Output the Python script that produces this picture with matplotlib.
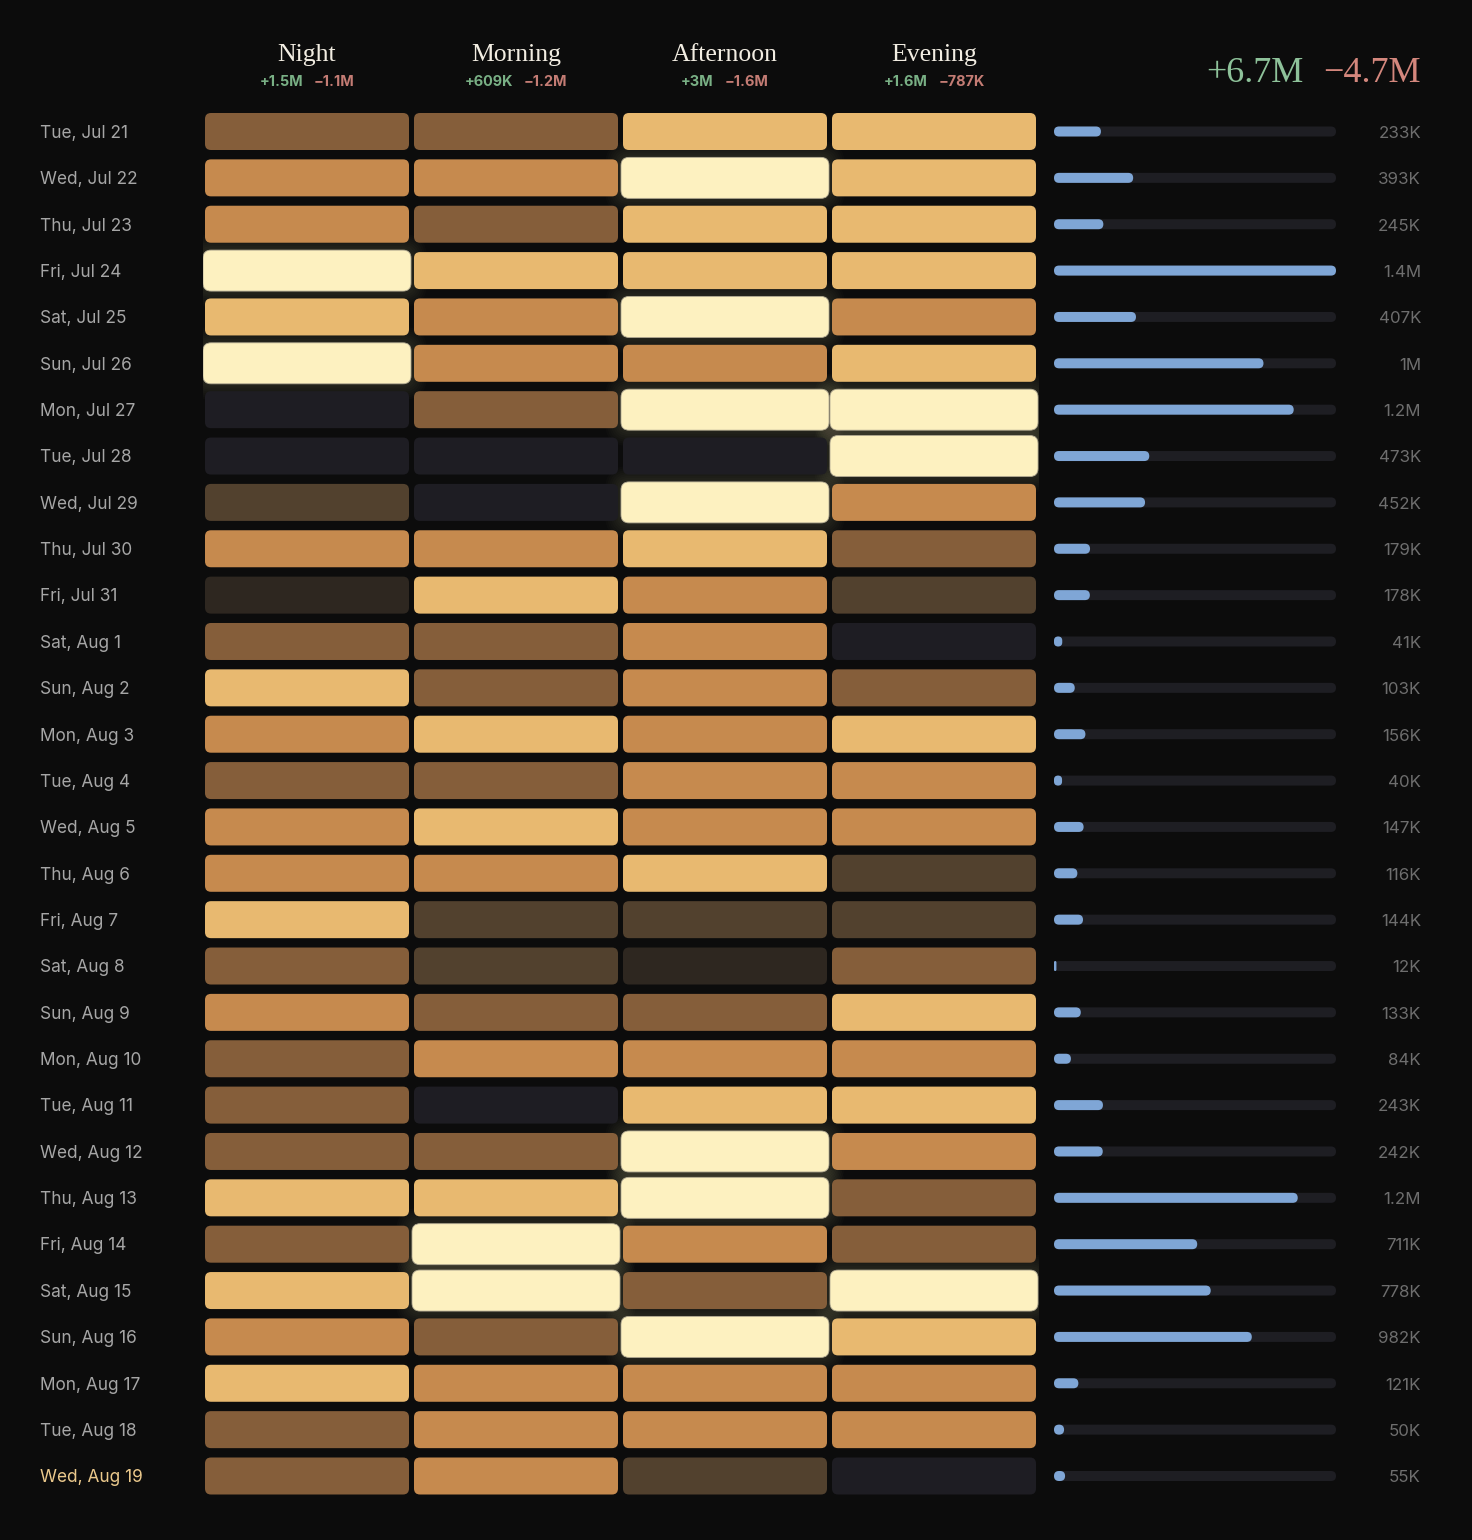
import matplotlib
matplotlib.use("Agg")
import matplotlib.pyplot as plt
from matplotlib.patches import FancyBboxPatch
from matplotlib.transforms import blended_transform_factory

# ---------------- data ----------------
dates = ["Tue, Jul 21", "Wed, Jul 22", "Thu, Jul 23", "Fri, Jul 24", "Sat, Jul 25",
         "Sun, Jul 26", "Mon, Jul 27", "Tue, Jul 28", "Wed, Jul 29", "Thu, Jul 30",
         "Fri, Jul 31", "Sat, Aug 1", "Sun, Aug 2", "Mon, Aug 3", "Tue, Aug 4",
         "Wed, Aug 5", "Thu, Aug 6", "Fri, Aug 7", "Sat, Aug 8", "Sun, Aug 9",
         "Mon, Aug 10", "Tue, Aug 11", "Wed, Aug 12", "Thu, Aug 13", "Fri, Aug 14",
         "Sat, Aug 15", "Sun, Aug 16", "Mon, Aug 17", "Tue, Aug 18", "Wed, Aug 19"]
periods = ["Night", "Morning", "Afternoon", "Evening"]
period_gain = ["+1.5M", "+609K", "+3M", "+1.6M"]
period_loss = ["\u22121.1M", "\u22121.2M", "\u22121.6M", "\u2212787K"]
total_gain = "+6.7M"
total_loss = "\u22124.7M"

# intensity level per day (rows) and period (columns), 0 = none ... 6 = peak
night     = [3, 4, 4, 6, 5, 6, 0, 0, 2, 4, 1, 3, 5, 4, 3, 4, 4, 5, 3, 4, 3, 3, 3, 5, 3, 5, 4, 5, 3, 3]
morning   = [3, 4, 3, 5, 4, 4, 3, 0, 0, 4, 5, 3, 3, 5, 3, 5, 4, 2, 2, 3, 4, 0, 3, 5, 6, 6, 3, 4, 4, 4]
afternoon = [5, 6, 5, 5, 6, 4, 6, 0, 6, 5, 4, 4, 4, 4, 4, 4, 5, 2, 1, 3, 4, 5, 6, 6, 4, 3, 6, 4, 4, 2]
evening   = [5, 5, 5, 5, 4, 5, 6, 6, 4, 3, 2, 0, 3, 5, 4, 4, 2, 2, 3, 5, 4, 5, 4, 3, 3, 6, 5, 4, 4, 0]

# daily volume (thousands) and its label
volume_k = [233, 393, 245, 1400, 407, 1040, 1190, 473, 452, 179, 178, 41, 103, 156, 40,
            147, 116, 144, 12, 133, 84, 243, 242, 1210, 711, 778, 982, 121, 50, 55]
volume_labels = ["233K", "393K", "245K", "1.4M", "407K", "1M", "1.2M", "473K", "452K",
                 "179K", "178K", "41K", "103K", "156K", "40K", "147K", "116K", "144K",
                 "12K", "133K", "84K", "243K", "242K", "1.2M", "711K", "778K", "982K",
                 "121K", "50K", "55K"]

# ---------------- style ----------------
BG = "#0c0c0c"
palette = ["#1e1d23", "#2e2720", "#52412e", "#855e3a", "#c68a4e", "#e8b970", "#fdf1c0"]
GREEN = "#8ec29a"
RED = "#d4877d"
GREEN_S = "#79b085"
RED_S = "#c47c74"
BLUE = "#7fa6d6"
TRACK = "#1e1e23"
LABEL = "#a6a6a6"
LABEL_HI = "#ebc98c"
VALUE = "#6e6e6e"
HEAD = "#f2ede2"

W, H, DPI = 1472, 1540, 100
fig = plt.figure(figsize=(W / DPI, H / DPI), dpi=DPI, facecolor=BG)


def add_px_axes(left, top, right, bottom):
    ax = fig.add_axes([left / W, 1 - bottom / H, (right - left) / W, (bottom - top) / H])
    ax.set_axis_off()
    ax.patch.set_alpha(0)
    return ax


# overlay in pixel coordinates for text
ov = add_px_axes(0, 0, W, H)
ov.set_xlim(0, W)
ov.set_ylim(H, 0)

n_rows = len(dates)
n_cols = len(periods)
row_first, row_last = 131.5, 1476.0
pitch = (row_last - row_first) / (n_rows - 1)
top_px = row_first - pitch / 2
bot_px = row_last + pitch / 2

# ---------------- heatmap ----------------
col_pitch = 209.0
hx0 = 202.5
hm = add_px_axes(hx0, top_px, hx0 + n_cols * col_pitch, bot_px)
hm.set_xlim(0, n_cols)
hm.set_ylim(n_rows - 0.5, -0.5)
asp_hm = col_pitch / pitch       # mutation aspect to keep corners round
gx = 5 / col_pitch
cell_h = 37 / pitch
r_cell = 6 / col_pitch

grid = [night, morning, afternoon, evening]
for j, col in enumerate(grid):
    for i, lev in enumerate(col):
        x0 = j + gx / 2
        w = 1 - gx
        y0 = i - cell_h / 2
        h = cell_h
        if lev == 6:
            # soft glow
            for k in range(1, 9):
                e = 2 + k * 2.0
                ex, ey = e / col_pitch, e / pitch
                hm.add_patch(FancyBboxPatch((x0 - ex, y0 - ey), w + 2 * ex, h + 2 * ey,
                                            boxstyle=f"round,pad=0,rounding_size={(6 + e) / col_pitch}",
                                            mutation_aspect=asp_hm, fc=palette[6], ec="none",
                                            alpha=0.016, zorder=1))
            ex, ey = 2 / col_pitch, 2 / pitch
            hm.add_patch(FancyBboxPatch((x0 - ex, y0 - ey), w + 2 * ex, h + 2 * ey,
                                        boxstyle=f"round,pad=0,rounding_size={8 / col_pitch}",
                                        mutation_aspect=asp_hm, fc=palette[6], ec="#b3ab93",
                                        lw=0.6, zorder=3))
        else:
            hm.add_patch(FancyBboxPatch((x0, y0), w, h,
                                        boxstyle=f"round,pad=0,rounding_size={r_cell}",
                                        mutation_aspect=asp_hm, fc=palette[lev], ec="none",
                                        zorder=2))

# ---------------- volume bars ----------------
bx0, bx1 = 1054, 1336
vmax = max(volume_k)
ba = add_px_axes(bx0, top_px, bx1, bot_px)
ba.set_xlim(0, vmax)
ba.set_ylim(n_rows - 0.5, -0.5)
upp = vmax / (bx1 - bx0)            # data units per pixel in x
asp_b = (1 / pitch) / upp
bar_h = 10 / pitch
r_bar = 5 * upp
for i, v in enumerate(volume_k):
    ba.add_patch(FancyBboxPatch((0, i - bar_h / 2), vmax, bar_h,
                                boxstyle=f"round,pad=0,rounding_size={r_bar}",
                                mutation_aspect=asp_b, fc=TRACK, ec="none", zorder=1))
    r = min(r_bar, v / 2)
    ba.add_patch(FancyBboxPatch((0, i - bar_h / 2), v, bar_h,
                                boxstyle=f"round,pad=0,rounding_size={r}",
                                mutation_aspect=asp_b, fc=BLUE, ec="none", zorder=2))

# ---------------- texts ----------------
tr_rows = blended_transform_factory(ov.transData, hm.transData)
dy = 1.8 / pitch
for i, d in enumerate(dates):
    ov.text(40, i + dy, d, transform=tr_rows, ha="left", va="center",
            fontsize=12.4, family="Inter",
            color=LABEL_HI if i == n_rows - 1 else LABEL)
    ov.text(1421, i + dy, volume_labels[i], transform=tr_rows, ha="right", va="center",
            fontsize=12.2, family="Inter", color=VALUE)

fig.canvas.draw()
renderer = fig.canvas.get_renderer()

for j, p in enumerate(periods):
    cx = hx0 + (j + 0.5) * col_pitch
    ov.text(cx, 55, p, ha="center", va="center", fontsize=18.5,
            family="Liberation Serif", color=HEAD)
    tg = ov.text(0, 81.5, period_gain[j], ha="left", va="center", fontsize=10.4,
                 family="Inter", fontweight="bold", color=GREEN_S)
    tl = ov.text(0, 81.5, period_loss[j], ha="left", va="center", fontsize=10.4,
                 family="Inter", fontweight="bold", color=RED_S)
    wg = tg.get_window_extent(renderer).width
    wl = tl.get_window_extent(renderer).width
    gap = 11
    start = cx - (wg + gap + wl) / 2
    tg.set_x(start)
    tl.set_x(start + wg + gap)

tl = ov.text(1421, 73, total_loss, ha="right", va="center", fontsize=26,
             family="Liberation Serif", color=RED)
wl = tl.get_window_extent(renderer).width
ov.text(1421 - wl - 20, 73, total_gain, ha="right", va="center", fontsize=26,
        family="Liberation Serif", color=GREEN)

fig.savefig("out.png", dpi=DPI, facecolor=BG)
